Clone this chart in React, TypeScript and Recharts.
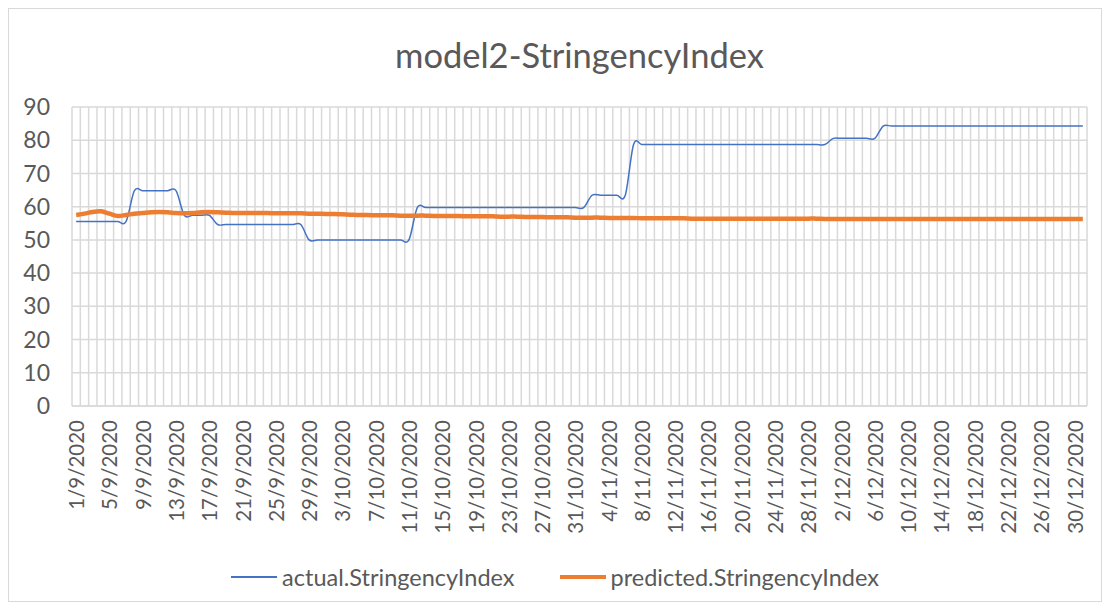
import React from "react"
import { LineChart, Line, XAxis, YAxis, CartesianGrid } from "recharts"

// daily categories, 1/9/2020 .. 31/12/2020
const months = [9, 10, 11, 12]
const monthDays = [30, 31, 30, 31]
const dates: string[] = []
months.forEach((m, i) => {
  for (let d = 1; d <= monthDays[i]; d++) dates.push(`${d}/${m}/2020`)
})

const actual = [
  55.56, 55.56, 55.56, 55.56, 55.56, 55.56, 55.56, 64.81, 64.81, 64.81,
  64.81, 64.81, 64.81, 57.41, 57.41, 57.41, 57.41, 54.63, 54.63, 54.63,
  54.63, 54.63, 54.63, 54.63, 54.63, 54.63, 54.63, 54.63, 50, 50,
  50, 50, 50, 50, 50, 50, 50, 50, 50, 50,
  50, 59.72, 59.72, 59.72, 59.72, 59.72, 59.72, 59.72, 59.72, 59.72,
  59.72, 59.72, 59.72, 59.72, 59.72, 59.72, 59.72, 59.72, 59.72, 59.72,
  59.72, 59.72, 63.43, 63.43, 63.43, 63.43, 63.43, 78.7, 78.7, 78.7,
  78.7, 78.7, 78.7, 78.7, 78.7, 78.7, 78.7, 78.7, 78.7, 78.7,
  78.7, 78.7, 78.7, 78.7, 78.7, 78.7, 78.7, 78.7, 78.7, 78.7,
  78.7, 80.56, 80.56, 80.56, 80.56, 80.56, 80.56, 84.26, 84.26, 84.26,
  84.26, 84.26, 84.26, 84.26, 84.26, 84.26, 84.26, 84.26, 84.26, 84.26,
  84.26, 84.26, 84.26, 84.26, 84.26, 84.26, 84.26, 84.26, 84.26, 84.26,
  84.26, 84.26,
]

const predicted = [
  57.5, 57.9, 58.4, 58.6, 57.9, 57.2, 57.5, 57.9, 58.1, 58.3,
  58.4, 58.3, 58.1, 58.0, 58.1, 58.3, 58.4, 58.3, 58.2, 58.1,
  58.1, 58.1, 58.1, 58.1, 58.0, 58.0, 58.0, 58.0, 57.9, 57.9,
  57.8, 57.8, 57.7, 57.6, 57.5, 57.5, 57.4, 57.4, 57.4, 57.3,
  57.3, 57.3, 57.3, 57.2, 57.2, 57.2, 57.2, 57.1, 57.1, 57.1,
  57.1, 57.0, 57.0, 57.0, 56.9, 56.9, 56.9, 56.8, 56.8, 56.8,
  56.7, 56.7, 56.7, 56.7, 56.6, 56.6, 56.6, 56.6, 56.5, 56.5,
  56.5, 56.5, 56.5, 56.5, 56.4, 56.4, 56.4, 56.4, 56.4, 56.4,
  56.4, 56.4, 56.4, 56.4, 56.4, 56.4, 56.4, 56.4, 56.4, 56.4,
  56.3, 56.3, 56.3, 56.3, 56.3, 56.3, 56.3, 56.3, 56.3, 56.3,
  56.3, 56.3, 56.3, 56.3, 56.3, 56.3, 56.3, 56.3, 56.3, 56.3,
  56.3, 56.3, 56.3, 56.3, 56.3, 56.3, 56.3, 56.3, 56.3, 56.3,
  56.3, 56.3,
]

const yTicks = [0, 10, 20, 30, 40, 50, 60, 70, 80, 90]

const data = dates.map((date, i) => ({ date, actual: actual[i], predicted: predicted[i] }))

const FONT = "Lato, 'Open Sans', sans-serif"
const TEXT = "#595959"
const GRID = "#d9d9d9"

// Excel-like smoothed line (catmull-rom bezier, 1/6 tangents)
function excelSmooth(context: any) {
  let pts: number[][] = []
  return {
    areaStart() {},
    areaEnd() {},
    lineStart() {
      pts = []
    },
    point(x: number, y: number) {
      pts.push([+x, +y])
    },
    lineEnd() {
      if (!pts.length) return
      context.moveTo(pts[0][0], pts[0][1])
      for (let i = 0; i < pts.length - 1; i++) {
        const p0 = pts[i - 1] || pts[i]
        const p1 = pts[i]
        const p2 = pts[i + 1]
        const p3 = pts[i + 2] || p2
        context.bezierCurveTo(
          p1[0] + (p2[0] - p0[0]) / 6,
          p1[1] + (p2[1] - p0[1]) / 6,
          p2[0] - (p3[0] - p1[0]) / 6,
          p2[1] - (p3[1] - p1[1]) / 6,
          p2[0],
          p2[1]
        )
      }
    },
  }
}

function DateTick(props: any) {
  const { x, y, payload } = props
  const ty = y + 6
  return (
    <text
      x={x}
      y={ty}
      transform={`rotate(-90 ${x} ${ty})`}
      textAnchor="end"
      dominantBaseline="central"
      fill={TEXT}
      fontSize={20.5}
      fontFamily={FONT}
    >
      {payload.value}
    </text>
  )
}

function LegendItem({ color, width, label }: { color: string; width: number; label: string }) {
  return (
    <div style={{ display: "flex", alignItems: "center" }}>
      <div style={{ width: 46, height: width, background: color, marginRight: 5 }} />
      <span>{label}</span>
    </div>
  )
}

export default function App() {
  return (
    <div
      style={{
        position: "relative",
        width: 1094,
        height: 594,
        border: `1px solid ${GRID}`,
        boxSizing: "border-box",
        background: "#fff",
        fontFamily: FONT,
        color: TEXT,
      }}
    >
      <div
        style={{
          position: "absolute",
          top: 26,
          left: 63,
          width: 1015,
          textAlign: "center",
          fontSize: 34.5,
          lineHeight: "40px",
        }}
      >
        model2-StringencyIndex
      </div>
      <LineChart width={1092} height={592} data={data} margin={{ top: 98, right: 14, left: 0, bottom: 0 }}>
        <CartesianGrid
          stroke={GRID}
          strokeWidth={1.5}
          verticalCoordinatesGenerator={({ offset }: any) =>
            Array.from({ length: dates.length + 1 }, (_, k) => offset.left + (k * offset.width) / dates.length)
          }
        />
        <XAxis
          dataKey="date"
          scale="band"
          interval={3}
          height={195}
          tickLine={false}
          axisLine={{ stroke: GRID, strokeWidth: 1.5 }}
          tick={<DateTick />}
        />
        <YAxis
          domain={[0, 90]}
          ticks={yTicks}
          width={63}
          axisLine={false}
          tickLine={false}
          tickMargin={16}
          tick={{ fill: TEXT, fontSize: 23, fontFamily: FONT }}
        />
        <Line
          dataKey="actual"
          type={excelSmooth as any}
          stroke="#4472C4"
          strokeWidth={1.5}
          dot={false}
          isAnimationActive={false}
        />
        <Line
          dataKey="predicted"
          type={excelSmooth as any}
          stroke="#ED7D31"
          strokeWidth={4.5}
          dot={false}
          isAnimationActive={false}
        />
      </LineChart>
      <div
        style={{
          position: "absolute",
          top: 555,
          left: 0,
          width: 1092,
          display: "flex",
          justifyContent: "center",
          gap: 45,
          fontSize: 23.5,
          lineHeight: "26px",
        }}
      >
        <LegendItem color="#4472C4" width={1.5} label="actual.StringencyIndex" />
        <LegendItem color="#ED7D31" width={4.5} label="predicted.StringencyIndex" />
      </div>
    </div>
  )
}
